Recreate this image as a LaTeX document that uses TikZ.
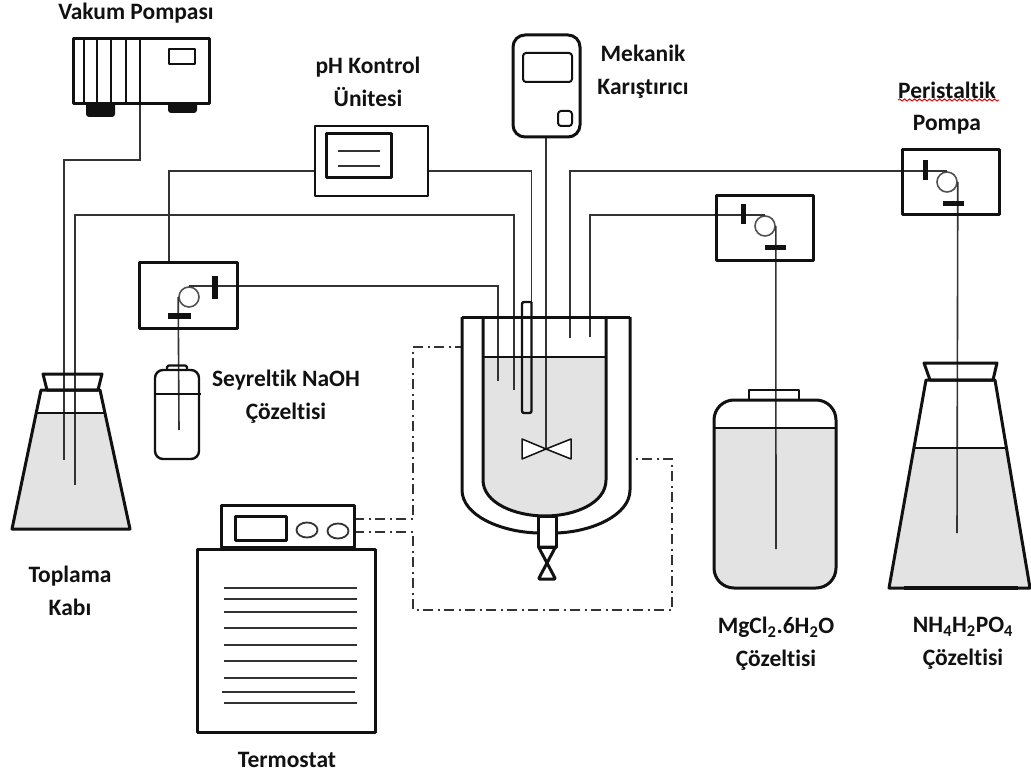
\documentclass[tikz,border=0pt]{standalone}
\usepackage{fontspec}
\setmainfont{Carlito}[Ligatures=NoCommon]
\usetikzlibrary{decorations.pathmorphing}
\usetikzlibrary{shapes.geometric}
\definecolor{liquid}{HTML}{E3E3E3}
\definecolor{ink}{HTML}{111111}
\definecolor{tubeink}{HTML}{333333}
\tikzset{
  wall/.style={draw=ink,line width=3pt,line join=round},
  thinwall/.style={draw=ink,line width=2pt,line join=round},
  tube/.style={draw=tubeink,line width=1.6pt},
  level/.style={draw=ink,line width=1.7pt},
  chain/.style={draw=tubeink,line width=1.7pt,dash pattern=on 10pt off 4.5pt on 2pt off 4.5pt},
  boxn/.style={rectangle,inner sep=0pt,wall},
  wheel/.style={circle,draw=tubeink!85,line width=1.6pt,inner sep=0pt,minimum size=20pt},
  clamp/.style={fill=ink,rectangle,inner sep=0pt},
  knob/.style={ellipse,draw=tubeink,line width=1.8pt,inner sep=0pt,minimum width=21pt,minimum height=15pt},
  lbl/.style={font=\bfseries\fontsize{23.5}{33}\selectfont,text=ink,align=center,inner sep=0pt},
}
\begin{document}
\begin{tikzpicture}[x=1pt,y=-1pt]
\useasboundingbox (0,0) rectangle (1031,778);
% ---------- vessels' liquid
\fill[liquid] (36.2,413) -- (12,529) -- (130,529) -- (105,413) -- cycle;
\fill[liquid] (913,448) -- (889,588) -- (1030,588) -- (1008,448) -- cycle;
\fill[liquid,rounded corners=20pt] (714,450) -- (714,588) -- (836,588) -- (836,450);
\fill[liquid] (714,428) rectangle (836,500);
\fill[liquid] (483,357) -- (483,480) .. controls (483,503) and (515,516) .. (545,516) .. controls (575,516) and (606,503) .. (606,480) -- (606,357) -- cycle;
% ---------- named ports
\coordinate (vpOut) at (140,104);
\coordinate (vpJog) at (64,160);
\coordinate (colA) at (64,460);
\coordinate (colB) at (75,485);
\coordinate (railB) at (300,215);
\coordinate (portNaOH) at (498,381);
\coordinate (portCol) at (514,390);
\coordinate (probeTop) at (531.5,302);
\coordinate (stirEnd) at (546,449);
\coordinate (portP) at (570,338);
\coordinate (portMg) at (590,337);
\coordinate (phW) at (315,171);
\coordinate (phE) at (428,171);
\coordinate (npTop) at (169,263);
\coordinate (naEnd) at (179,430);
\coordinate (mgEnd) at (776,549);
\coordinate (npEnd) at (957,533);
\coordinate (stirOut) at (546,137);
\coordinate (thA) at (354,519);
\coordinate (thB) at (354,532);
\coordinate (jA) at (413,347);
\coordinate (jB) at (413,610);
\coordinate (jC) at (672,459);
\coordinate (rL) at (462,347);
\coordinate (rR) at (630,459);
% ---------- pump wheels (needed by the connectors)
\node[wheel] (wN) at (189,297) {};
\node[wheel] (wM) at (765,226) {};
\node[wheel] (wP) at (947,182) {};
% ---------- connectors
\draw[tube] (vpOut) |- (vpJog) -- (colA);
\draw[tube] (colB) |- (railB) -| (portCol);
\draw[tube] (wN.north) -| (portNaOH);
\draw[tube] (wN.west) -- (naEnd);
\draw[tube] (phW) -| (npTop);
\draw[tube] (phE) -| (probeTop);
\draw[tube] (stirOut) -- (stirEnd);
\draw[tube] (wP.north) -| (portP);
\draw[tube] (wP.east) -- (npEnd);
\draw[tube] (wM.north) -| (portMg);
\draw[tube] (wM.east) -- (mgEnd);
\draw[chain] (thA) -| (jA) -- (rL);
\draw[chain] (thB) -| (jB) -| (jC) -- (rR);
% ---------- vacuum pump
\fill[ink,rounded corners=3pt] (86,100) rectangle (115,117);
\fill[ink,rounded corners=3pt] (168,100) rectangle (197,113);
\node[boxn,fill=white,minimum width=136pt,minimum height=65pt] (vacpump) at (141,71.5) {};
\foreach \xx in {84,97,111,126,140} \draw[thinwall] (\xx,39) -- (\xx,104);
\node[rectangle,inner sep=0pt,thinwall,minimum width=26pt,minimum height=15pt] (vacwin) at (182,56.5) {};
% ---------- pH unit
\node[rectangle,inner sep=0pt,wall,line width=2.7pt,minimum width=113pt,minimum height=70pt] (phunit) at (371.5,161) {};
\node[boxn,minimum width=65pt,minimum height=44pt] (phscreen) at (358.5,156) {};
\draw[tube] (338,151) -- (380,151);
\draw[tube] (338,166) -- (380,166);
% ---------- stirrer
\node[rectangle,rounded corners=12pt,inner sep=0pt,wall,minimum width=67pt,minimum height=102pt] (stirrer) at (546.5,86) {};
\node[rectangle,rounded corners=3pt,inner sep=0pt,thinwall,minimum width=49pt,minimum height=29pt] (stirscreen) at (547.5,67.5) {};
\node[rectangle,rounded corners=3pt,inner sep=0pt,thinwall,minimum width=14pt,minimum height=15pt] (stirbtn) at (565,118.5) {};
% ---------- peristaltic pumps
\node[boxn,minimum width=98pt,minimum height=65pt] (pumpN) at (188,295.5) {};
\node[clamp,minimum width=5.5pt,minimum height=23pt] (barN) at (215,287.5) {};
\node[clamp,minimum width=23pt,minimum height=5.5pt] (lowN) at (179.5,316) {};
\node[boxn,minimum width=97pt,minimum height=65pt] (pumpM) at (764.5,228.5) {};
\node[clamp,minimum width=5pt,minimum height=20pt] (barM) at (743,214.5) {};
\node[clamp,minimum width=21pt,minimum height=5pt] (lowM) at (775.5,248) {};
\node[boxn,minimum width=97pt,minimum height=65pt] (pumpP) at (950.5,182.5) {};
\node[clamp,minimum width=5pt,minimum height=20pt] (barP) at (925,170.5) {};
\node[clamp,minimum width=21pt,minimum height=5pt] (lowP) at (953.5,204) {};
% ---------- collection flask
\draw[level] (36.2,413) -- (105,413);
\draw[wall] (12,529) -- (130,529) -- (100,390) -- (41,390) -- cycle;
\draw[wall] (43,374) -- (102,374) -- (98,390) -- (47,390) -- cycle;
% ---------- NaOH bottle
\draw[thinwall,line width=2.4pt,rounded corners=8pt] (155,370) rectangle (199,459);
\draw[thinwall,line width=2.2pt,rounded corners=1.5pt] (167,370) -- (167,365.5) -- (187,365.5) -- (187,370);
\draw[level] (154,394) -- (201,394);
% ---------- MgCl2 jar
\draw[level] (714,428) -- (836,428);
\draw[wall,rounded corners=20pt] (714,400) rectangle (836,588);
\draw[thinwall,line width=2.4pt] (749,400) -- (749,390) -- (799,390) -- (799,400);
% ---------- NH4H2PO4 flask
\draw[level] (913,448) -- (1008,448);
\draw[wall] (889,588) -- (1030,588) -- (995,380) -- (926,380) -- cycle;
\draw[wall] (924,363) -- (997,363) -- (993,380) -- (930,380) -- cycle;
\fill[ink] (904,586) rectangle (1018,590);
% ---------- reactor
\draw[wall] (462,317) -- (630,317);
\draw[level,line width=2.2pt] (483,357) -- (606,357);
\draw[wall] (483,317) -- (483,480) .. controls (483,503) and (515,516) .. (545,516) .. controls (575,516) and (606,503) .. (606,480) -- (606,317);
\draw[wall] (462,317) -- (462,490) .. controls (462,515) and (500,532) .. (538,533);
\draw[wall] (630,317) -- (630,490) .. controls (630,515) and (592,532) .. (556,533);
\draw[wall,fill=white] (538,516) rectangle (556,547);
\draw[wall,rounded corners=1pt] (538.5,547) -- (555.5,547) -- (538.5,579) -- (555.5,579) -- cycle;
\draw[thinwall,line width=2.4pt,rounded corners=2pt] (531.5,302) -- (522,302) -- (522,413) -- (531.5,413) -- (531.5,302);
\draw[thinwall,line width=1.5pt,fill=white] (546,449) -- (522,439) -- (522,459) -- cycle;
\draw[thinwall,line width=1.5pt,fill=white] (546,449) -- (571,439) -- (571,459) -- cycle;
% ---------- thermostat
\node[boxn,minimum width=133pt,minimum height=42pt] (thctrl) at (287.5,526) {};
\node[boxn,minimum width=51pt,minimum height=24pt] (thdisp) at (260.5,528) {};
\node[knob] (knobA) at (307,530) {};
\node[knob] (knobB) at (338,531) {};
\node[boxn,fill=white,minimum width=178pt,minimum height=183pt] (thbody) at (286,640.5) {};
\foreach \yy in {588,599,612,628,645,661,678,703} \draw[tube] (224,\yy) -- (357,\yy);
\draw[tube] (222,692) -- (355,692);
% ---------- labels
\node[lbl] (lVac) at (136,13) {Vakum Pompası};
\node[lbl] (lPh) at (368,82) {pH Kontrol\\Ünitesi};
\node[lbl] (lMek) at (643,71.5) {Mekanik\\Karıştırıcı};
\node[lbl] (lPer) at (947,90) {Peristaltik};
\node[lbl] (lPer2) at (947,125) {Pompa};
\node[lbl] (lNaOH) at (286,396.5) {Seyreltik NaOH\\Çözeltisi};
\node[lbl] (lTop) at (70,590.5) {Toplama\\Kabı};
\node[lbl] (lTerm) at (287,760) {Termostat};
\node[lbl] (lMg) at (776,643.5) {MgCl\textsubscript{2}.6H\textsubscript{2}O\\Çözeltisi};
\node[lbl] (lNH) at (963,643.5) {NH\textsubscript{4}H\textsubscript{2}PO\textsubscript{4}\\Çözeltisi};
\coordinate (wavyA) at (898,100);
\coordinate (wavyB) at (999,100);
\draw[draw=red!85!black,line width=0.9pt,decorate,decoration={snake,amplitude=1.1pt,segment length=5pt}] (wavyA) -- (wavyB);
\end{tikzpicture}
\end{document}
